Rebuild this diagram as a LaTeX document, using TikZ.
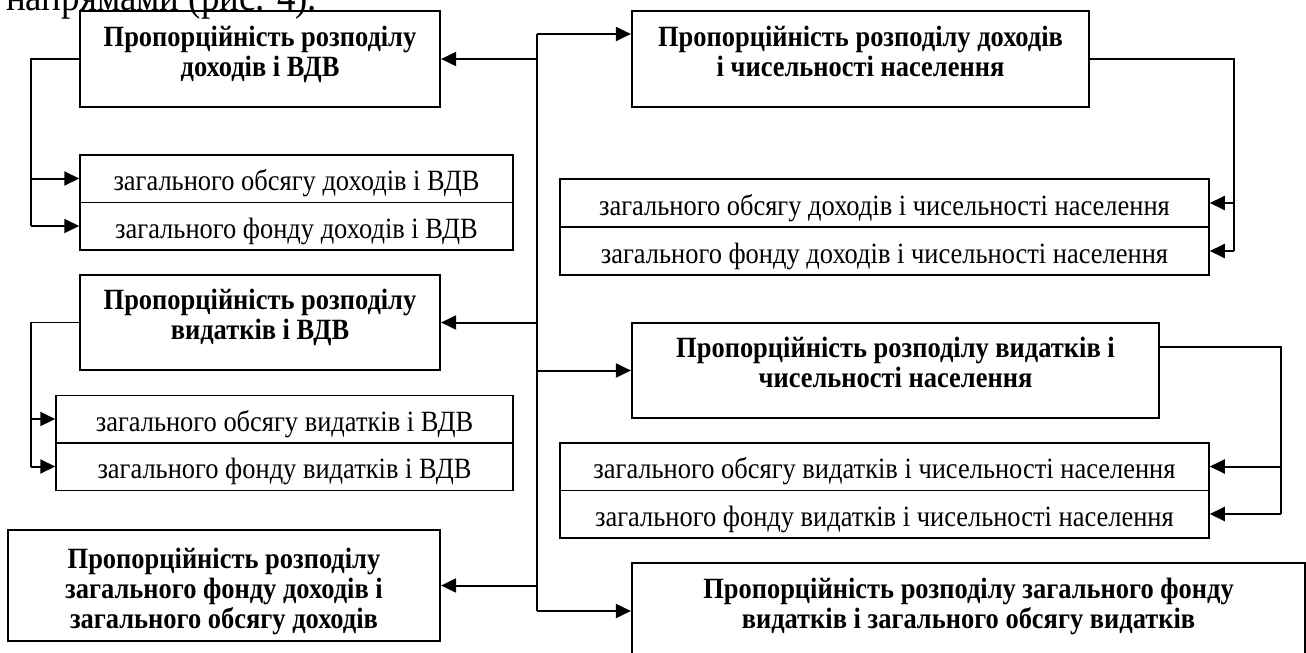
\documentclass[tikz,border=0pt]{standalone}
\usepackage{fontspec}
\setmainfont{Liberation Serif}[FakeStretch=0.9]
\usetikzlibrary{arrows.meta}
\begin{document}
\begin{tikzpicture}[x=1pt,y=-1pt,
  box/.style = {rectangle,draw,line width=2.2pt,inner sep=0pt,align=center,font=\bfseries\fontsize{29.4}{30}\selectfont,text height=40pt,text depth=6pt},
  cell/.style = {rectangle,draw,line width=1.5pt,inner sep=0pt,font=\fontsize{29.4}{30}\selectfont,text height=29pt,text depth=5pt},
  link/.style = {line width=1.5pt},
  arrow/.style = {line width=2pt,-{Triangle[length=15pt,width=14pt]}}]
\useasboundingbox (0,0) rectangle (1306,653);
\node[anchor=base west,inner sep=0pt,font=\fontsize{41}{44}\selectfont] (head) at (6,10) {напрямами (рис. 4).};
% main boxes
\node[box,minimum width=360pt,minimum height=96pt] (dv) at (260,59) {Пропорційність розподілу\\доходів і ВДВ};
\node[box,minimum width=457pt,minimum height=96pt] (dn) at (860.5,59) {Пропорційність розподілу доходів\\і чисельності населення};
\node[box,minimum width=360pt,minimum height=95pt] (vv) at (260,322.5) {Пропорційність розподілу\\видатків і ВДВ};
\node[box,minimum width=527pt,minimum height=95pt] (vn) at (895.5,370.5) {Пропорційність розподілу видатків і\\чисельності населення};
\node[box,minimum width=432pt,minimum height=111pt,text height=91pt,text depth=6pt] (fd) at (224,585.5) {Пропорційність розподілу\\загального фонду доходів і\\загального обсягу доходів};
\node[box,minimum width=673pt,minimum height=96pt] (fv) at (968.5,611) {Пропорційність розподілу загального фонду\\видатків і загального обсягу видатків};
% pairs
\foreach \t [count=\j] in {обсягу,фонду} {
  \node[cell,minimum width=433pt,minimum height=47.5pt] (dv\j) at (296.5,{131+47.5*\j}) {загального \t\ доходів і ВДВ};
  \node[cell,minimum width=649pt,minimum height=48pt] (dn\j) at (884.5,{155+48*\j}) {загального \t\ доходів і чисельності населення};
  \node[cell,minimum width=457pt,minimum height=47.5pt] (vv\j) at (284.5,{371.5+47.5*\j}) {загального \t\ видатків і ВДВ};
  \node[cell,minimum width=649pt,minimum height=47.5pt] (vn\j) at (884.5,{419+47.5*\j}) {загального \t\ видатків і чисельності населення};
}
% trunk
\coordinate (top) at (537,34);
\coordinate (bot) at (537,611);
\draw[link] (top) -- (bot);
\draw[arrow] (top) -- (top -| dn.west);
\draw[arrow] (bot) -- (bot -| fv.west);
\draw[arrow] (vn.west -| top) -- (vn.west);
\foreach \n in {dv,vv,fd} \draw[arrow] (\n.east -| top) -- (\n.east);
% side links
\draw[link] (dv.west) -- ++(-48,0) coordinate (dvl) -- (dvl |- dv2);
\draw[link] (vv.west) -- ++(-48,0) coordinate (vvl) -- (vvl |- vv2);
\draw[link] (dn.east) -- ++(144,0) coordinate (dnr) -- (dnr |- dn2);
\draw[link] ([yshift=23.5pt]vn.east) -- ++(121,0) coordinate (vnr) -- (vnr |- vn2);
\foreach \j in {1,2} {
  \draw[arrow] (dvl |- dv\j) -- (dv\j.west);
  \draw[arrow] (vvl |- vv\j) -- (vv\j.west);
  \draw[arrow] (dnr |- dn\j) -- (dn\j.east);
  \draw[arrow] (vnr |- vn\j) -- (vn\j.east);
}
\end{tikzpicture}
\end{document}
